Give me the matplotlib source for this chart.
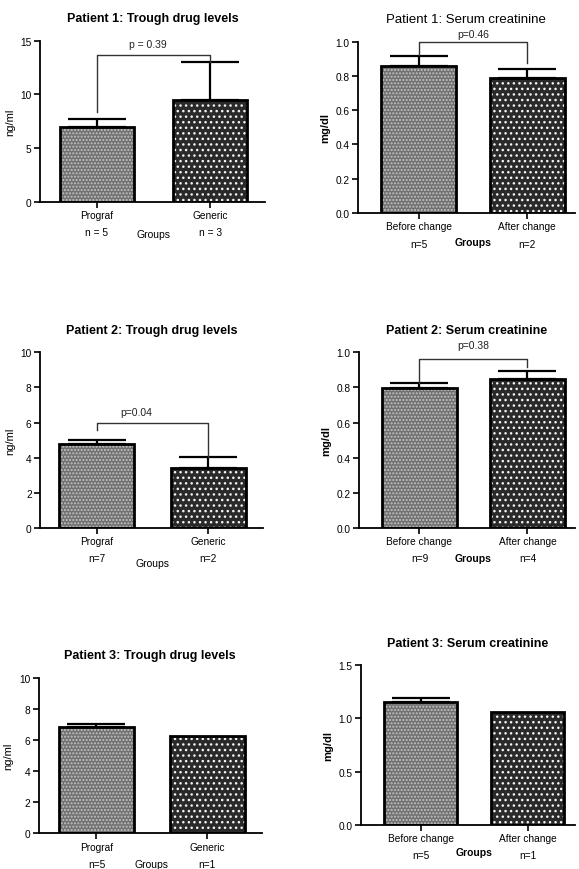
import matplotlib
matplotlib.use("Agg")
import matplotlib.pyplot as plt

plt.rcParams['font.family'] = ['Liberation Sans', 'DejaVu Sans']
plt.rcParams['hatch.linewidth'] = 1.0

# data
titles = ["Patient 1: Trough drug levels", "Patient 1: Serum creatinine",
          "Patient 2: Trough drug levels", "Patient 2: Serum creatinine",
          "Patient 3: Trough drug levels", "Patient 3: Serum creatinine"]
title_bold = [True, False, True, True, True, True]
ylabels = ["ng/ml", "mg/dl", "ng/ml", "mg/dl", "ng/ml", "mg/dl"]
groups_drug = ["Prograf", "Generic"]
groups_crea = ["Before change", "After change"]
n_labels = [["n = 5", "n = 3"], ["n=5", "n=2"],
            ["n=7", "n=2"], ["n=9", "n=4"],
            ["n=5", "n=1"], ["n=5", "n=1"]]
means = [[7.0, 9.5], [0.86, 0.785],
         [4.8, 3.42], [0.795, 0.846],
         [6.85, 6.25], [1.153, 1.065]]
errs = [[0.7, 3.5], [0.058, 0.055],
        [0.22, 0.62], [0.028, 0.045],
        [0.15, 0.0], [0.044, 0.0]]
yticks = [[0, 5, 10, 15], [0.0, 0.2, 0.4, 0.6, 0.8, 1.0],
          [0, 2, 4, 6, 8, 10], [0.0, 0.2, 0.4, 0.6, 0.8, 1.0],
          [0, 2, 4, 6, 8, 10], [0.0, 0.5, 1.0, 1.5]]
ytick_fmt = ["%d", "%.1f", "%d", "%.1f", "%d", "%.1f"]
# p-value brackets: text, bracket level, left leg end, right leg end, text y, text x
p_text = ["p = 0.39", "p=0.46", "p=0.04", "p=0.38", None, None]
p_level = [13.7, 1.0, 5.97, 0.962, None, None]
p_left = [8.4, 0.92, 5.6, 0.823, None, None]
p_right = [13.0, 0.873, 4.05, 0.915, None, None]
p_ty = [14.7, 1.047, 6.58, 1.04, None, None]
p_tx = [0.45, 0.5, 0.35, 0.5, None, None]

# axes rectangles in figure fraction
rects = [[0.069, 0.767, 0.389, 0.185], [0.618, 0.754, 0.375, 0.197],
         [0.069, 0.392, 0.385, 0.202], [0.620, 0.392, 0.373, 0.202],
         [0.067, 0.041, 0.385, 0.179], [0.623, 0.051, 0.370, 0.183]]
xlims = [(-0.504, 1.487), (-0.56, 1.44), (-0.51, 1.49),
         (-0.56, 1.44), (-0.52, 1.49), (-0.56, 1.44)]
bar_w = [0.66, 0.69, 0.67, 0.69, 0.67, 0.68]
groups_y = [-0.2, -0.17, -0.2, -0.17, -0.2, -0.17]

fig = plt.figure(figsize=(5.79, 8.70), dpi=100)

for i in range(6):
    ax = fig.add_axes(rects[i])
    x = [0, 1]
    m = means[i]
    # patterned fill, then black outline on top
    ax.bar(x[0], m[0], bar_w[i], color='#707070', edgecolor='#c4c4c4',
           linewidth=0, hatch='.....', zorder=2)
    ax.bar(x[1], m[1], bar_w[i], color='#2a2a2a', edgecolor='#f4f4f4',
           linewidth=0, hatch='...', zorder=2)
    ax.bar(x, m, bar_w[i], fill=False, edgecolor='black', linewidth=2, zorder=3)
    for j in range(2):
        if errs[i][j] > 0:
            ax.errorbar(x[j], m[j], yerr=[[0], [errs[i][j]]], fmt='none',
                        ecolor='black', elinewidth=1.6, capsize=21,
                        capthick=1.6, zorder=4)
    if p_text[i]:
        ax.plot([0, 0, 1, 1], [p_left[i], p_level[i], p_level[i], p_right[i]],
                color='#333333', lw=1.0, zorder=4, clip_on=False)
        ax.text(p_tx[i], p_ty[i], p_text[i], ha='center', va='center',
                fontsize=7.5, color='#222222')
    ax.set_xlim(*xlims[i])
    ax.set_ylim(yticks[i][0], yticks[i][-1])
    ax.set_yticks(yticks[i])
    ax.set_yticklabels([ytick_fmt[i] % v for v in yticks[i]], fontsize=7.3)
    names = groups_drug if i % 2 == 0 else groups_crea
    ax.set_xticks(x)
    ax.set_xticklabels([names[j] + "\n" + n_labels[i][j] for j in range(2)],
                       fontsize=7.3, linespacing=1.9)
    ax.text(0.5, groups_y[i], "Groups", transform=ax.get_xaxis_transform(),
            ha='center', va='center', fontsize=7.5,
            fontweight='bold' if i % 2 == 1 else 'normal')
    ax.set_ylabel(ylabels[i], fontsize=8,
                  fontweight='bold' if i % 2 == 1 else 'normal', labelpad=4)
    ax.set_title(titles[i], fontsize=9 if title_bold[i] else 9.5,
                 fontweight='bold' if title_bold[i] else 'normal', pad=14)
    for s in ['top', 'right']:
        ax.spines[s].set_visible(False)
    for s in ['left', 'bottom']:
        ax.spines[s].set_linewidth(1.3)
    ax.tick_params(direction='out', length=4, width=1.2, pad=2)

fig.savefig("out.png", dpi=100)
